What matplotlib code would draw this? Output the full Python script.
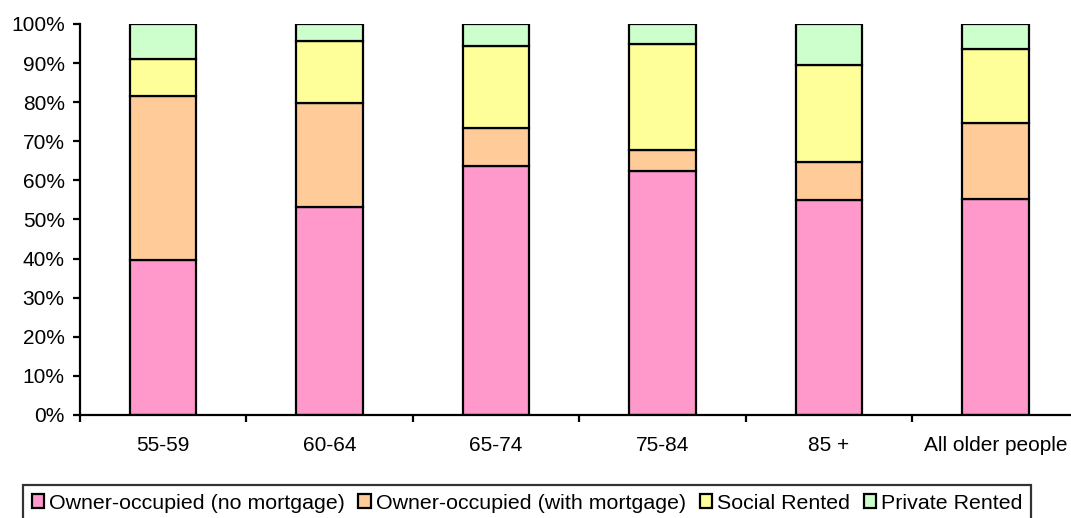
import matplotlib
matplotlib.use("Agg")
import matplotlib.pyplot as plt
import numpy as np
from matplotlib.ticker import FixedLocator, PercentFormatter

plt.rcParams['font.family'] = ['Liberation Sans', 'DejaVu Sans']

# tenure shares (%) by age group
groups = ['55-59', '60-64', '65-74', '75-84', '85 +', 'All older people']
no_mortgage = [39.6, 53.3, 63.8, 62.3, 55.0, 55.2]
with_mortgage = [42.1, 26.4, 9.7, 5.4, 9.6, 19.6]
social_rented = [9.4, 15.9, 20.9, 27.3, 25.0, 18.9]
private_rented = [8.9, 4.4, 5.6, 5.0, 10.4, 6.3]

series = [
    ('Owner-occupied (no mortgage)', no_mortgage, '#FF99CC'),
    ('Owner-occupied (with mortgage)', with_mortgage, '#FFCC99'),
    ('Social Rented', social_rented, '#FFFF99'),
    ('Private Rented', private_rented, '#CCFFCC'),
]

fig = plt.figure(figsize=(10.71, 5.18), dpi=100)
# axis runs slightly past the right edge of the figure
ax = fig.add_axes([80 / 1071, 103 / 518, 998.5 / 1071, 391 / 518])

x = np.arange(len(groups))
bottom = np.zeros(len(groups))
for name, vals, col in series:
    ax.bar(x, vals, width=0.4, bottom=bottom, color=col, edgecolor='black',
           linewidth=1.6, label=name)
    bottom += np.array(vals)

ax.set_xlim(-0.5, len(groups) - 0.5)
ax.set_ylim(0, 100)
ax.yaxis.set_major_locator(FixedLocator(np.arange(0, 101, 10)))
ax.yaxis.set_major_formatter(PercentFormatter(decimals=0))

ax.set_xticks(x)
ax.set_xticklabels(groups)
ax.set_xticks(np.arange(-0.5, len(groups), 1.0), minor=True)
ax.tick_params(axis='x', which='major', length=0, pad=15, labelsize=15)
ax.tick_params(axis='x', which='minor', length=5, width=1.6, direction='out')
ax.tick_params(axis='y', length=5, width=1.6, labelsize=15, pad=6)

for side in ('top', 'right'):
    ax.spines[side].set_visible(False)
for side in ('left', 'bottom'):
    ax.spines[side].set_linewidth(1.6)

leg = fig.legend(loc='upper left', bbox_to_anchor=(23 / 1071, 1 - 485 / 518),
                 ncol=4, fontsize=15.4, frameon=True, fancybox=False,
                 edgecolor='black', handlelength=0.6, handleheight=0.6,
                 handletextpad=0.2, columnspacing=0.65, borderpad=0.4,
                 borderaxespad=0)
leg.get_frame().set_linewidth(1.6)
for h in leg.legend_handles:
    h.set_linewidth(1.6)

fig.savefig('out.png', dpi=100)
